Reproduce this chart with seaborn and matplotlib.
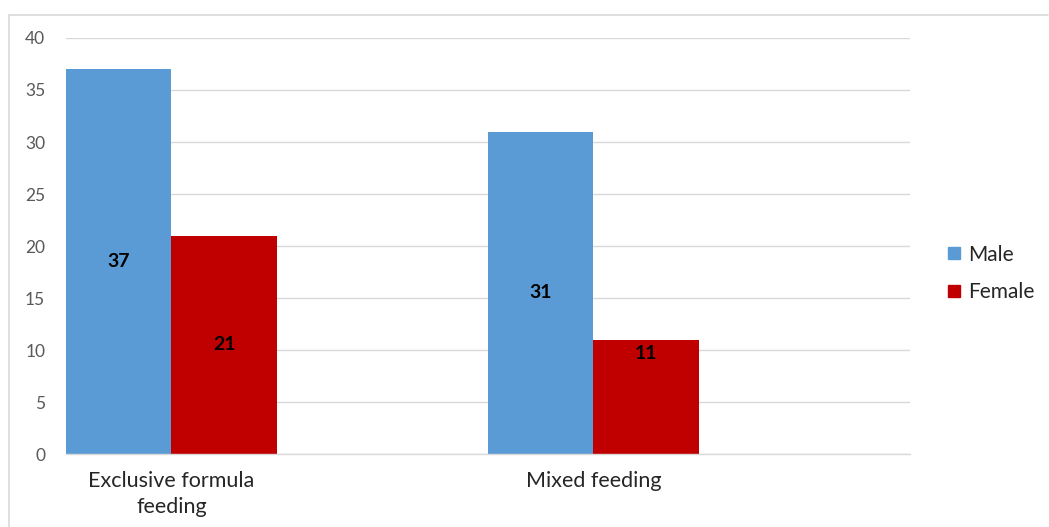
import matplotlib
matplotlib.use("Agg")
import matplotlib.pyplot as plt
import matplotlib.lines as mlines
import seaborn as sns
import pandas as pd

# Data
categories = ["Exclusive formula\nfeeding", "Mixed feeding"]
male = [37, 31]
female = [21, 11]
series = ["Male", "Female"]
colors = ["#5B9BD5", "#C00000"]

df = pd.DataFrame({
    "category": categories * 2,
    "sex": [series[0]] * len(male) + [series[1]] * len(female),
    "value": male + female,
})

sns.set_theme(style="white")
plt.rcParams["font.family"] = ["Lato", "DejaVu Sans"]

fig = plt.figure(figsize=(10.49, 5.27), dpi=100)
ax = fig.add_axes([0.0629, 0.1385, 0.8046, 0.7894])

sns.barplot(data=df, x="category", y="value", hue="sex", hue_order=series,
            palette=colors, width=0.5, saturation=1, ax=ax, legend=False,
            errorbar=None, linewidth=0)

ax.set_xlim(-0.25, 1.75)
ax.set_ylim(0, 40)
ax.set_yticks(range(0, 41, 5))
ax.grid(axis="y", color="#D9D9D9", linewidth=1)
ax.set_axisbelow(True)
for s in ["left", "right", "top"]:
    ax.spines[s].set_visible(False)
ax.spines["bottom"].set_color("#D9D9D9")
ax.spines["bottom"].set_linewidth(1)
ax.tick_params(axis="both", length=0)
ax.tick_params(axis="y", labelsize=12.5, labelcolor="#595959", pad=15)
ax.tick_params(axis="x", labelsize=15.5, labelcolor="#262626", pad=12)
for lbl in ax.get_xticklabels():
    lbl.set_linespacing(1.4)
ax.set_xlabel("")
ax.set_ylabel("")

# Value labels inside bars
for container in ax.containers:
    for bar in container:
        h = bar.get_height()
        y = h / 2 if h >= 15 else h - 1.3
        ax.text(bar.get_x() + bar.get_width() / 2, y, f"{h:.0f}",
                ha="center", va="center", fontsize=14, fontweight="bold",
                color="black")

# Legend
handles = [mlines.Line2D([], [], marker="s", linestyle="none", markersize=8.6,
                         markerfacecolor=c, markeredgecolor=c, label=l)
           for c, l in zip(colors, series)]
fig.legend(handles=handles, loc="center left", bbox_to_anchor=(0.886, 0.481),
           frameon=False, fontsize=15, labelspacing=0.85, handlelength=0.6,
           handletextpad=0.35, labelcolor="#262626")

# Chart area border (top and left edges)
fig.add_artist(mlines.Line2D([9 / 1049, 1048 / 1049], [1 - 15 / 527, 1 - 15 / 527],
                             color="#D9D9D9", linewidth=1.2,
                             transform=fig.transFigure))
fig.add_artist(mlines.Line2D([9 / 1049, 9 / 1049], [0, 1 - 15 / 527],
                             color="#D9D9D9", linewidth=1.2,
                             transform=fig.transFigure))

fig.savefig("out.png", dpi=100)
